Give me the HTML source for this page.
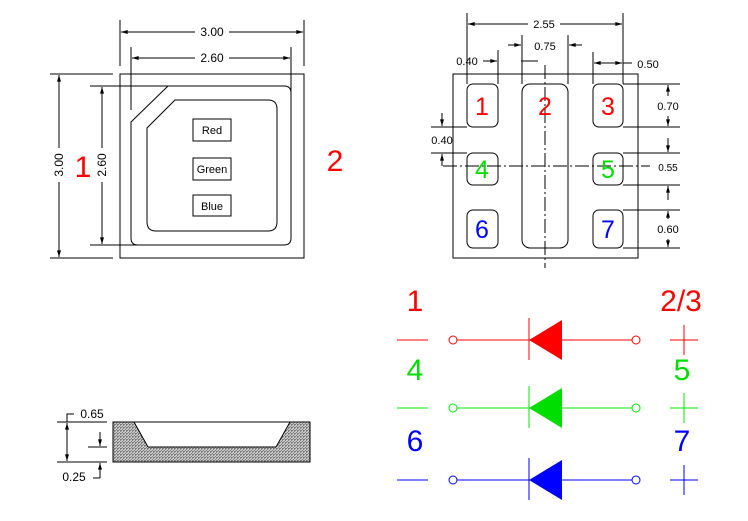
<!DOCTYPE html>
<html><head><style>
html,body{margin:0;padding:0;background:#fff;}
svg{display:block;}
text{font-family:"Liberation Sans",sans-serif;}
</style></head><body>
<svg width="748" height="521" viewBox="0 0 748 521" xmlns="http://www.w3.org/2000/svg">
<defs>
<marker id="a" viewBox="0 0 10 6" refX="10" refY="3" markerWidth="8" markerHeight="4" orient="auto-start-reverse" markerUnits="userSpaceOnUse"><path d="M0,0 L10,3 L0,6 z" fill="#000"/></marker>
<pattern id="h" width="3" height="3" patternUnits="userSpaceOnUse"><rect width="3" height="3" fill="#ccc"/><path d="M0,3 L3,0" stroke="#555" stroke-width="0.6"/><rect x="0" y="1" width="1" height="1" fill="#777"/></pattern>
</defs>
<g stroke="#000" stroke-width="1" fill="none">
<rect x="120" y="74" width="184" height="184"/>
<path d="M168,86 L284,86 Q291,86 291,93 L291,238 Q291,245 284,245 L138,245 Q131,245 131,238 L131,122 Z"/>
<path d="M175,100 L268,100 Q277,100 277,109 L277,222 Q277,231 268,231 L156,231 Q147,231 147,222 L147,128 Z"/>
<rect x="193" y="119" width="38" height="22"/>
<rect x="193" y="158" width="38" height="22"/>
<rect x="193" y="195" width="38" height="21"/>
<line x1="120" y1="20" x2="120" y2="66"/><line x1="304" y1="20" x2="304" y2="66"/>
<line x1="121" y1="32" x2="195" y2="32" marker-start="url(#a)"/><line x1="229" y1="32" x2="303" y2="32" marker-end="url(#a)"/>
<line x1="131" y1="47" x2="131" y2="110"/><line x1="291" y1="47" x2="291" y2="95"/>
<line x1="132" y1="58" x2="195" y2="58" marker-start="url(#a)"/><line x1="229" y1="58" x2="290" y2="58" marker-end="url(#a)"/>
<line x1="50" y1="74" x2="113" y2="74"/><line x1="50" y1="258" x2="113" y2="258"/>
<line x1="59" y1="75" x2="59" y2="148" marker-start="url(#a)"/><line x1="59" y1="182" x2="59" y2="257" marker-end="url(#a)"/>
<line x1="90" y1="86" x2="168" y2="86"/><line x1="90" y1="245" x2="144" y2="245"/>
<line x1="102" y1="87" x2="102" y2="148" marker-start="url(#a)"/><line x1="102" y1="182" x2="102" y2="244" marker-end="url(#a)"/>

<rect x="453" y="74" width="185" height="184"/>
<rect x="467" y="84" width="31" height="43" rx="6"/>
<rect x="467" y="153" width="31" height="32" rx="6"/>
<rect x="467" y="210" width="31" height="38" rx="6"/>
<rect x="522" y="84" width="46" height="164" rx="8"/>
<rect x="593" y="84" width="30" height="43" rx="6"/>
<rect x="593" y="153" width="30" height="32" rx="6"/>
<rect x="593" y="210" width="30" height="38" rx="6"/>
<line x1="545" y1="65" x2="545" y2="268" stroke-dasharray="14,3,2,3"/>
<line x1="443" y1="166" x2="650" y2="166" stroke-dasharray="14,3,2,3"/>
<line x1="467" y1="13" x2="467" y2="84"/><line x1="623" y1="13" x2="623" y2="84"/>
<line x1="468" y1="24" x2="528" y2="24" marker-start="url(#a)"/><line x1="560" y1="24" x2="622" y2="24" marker-end="url(#a)"/>
<line x1="522" y1="35" x2="522" y2="84"/><line x1="568" y1="35" x2="568" y2="84"/>
<line x1="508" y1="45" x2="521" y2="45" marker-end="url(#a)"/><line x1="582" y1="45" x2="569" y2="45" marker-end="url(#a)"/>
<line x1="498" y1="50" x2="498" y2="84"/>
<line x1="483" y1="61" x2="497" y2="61" marker-end="url(#a)"/>
<line x1="521" y1="61" x2="538" y2="61"/>
<line x1="593" y1="52" x2="593" y2="84"/>
<line x1="594" y1="63" x2="622" y2="63" marker-start="url(#a)" marker-end="url(#a)"/>
<line x1="623" y1="63" x2="632" y2="63"/>
<line x1="623" y1="84" x2="680" y2="84"/><line x1="623" y1="127" x2="680" y2="127"/>
<line x1="668" y1="85" x2="668" y2="96" marker-start="url(#a)"/><line x1="668" y1="116" x2="668" y2="126" marker-end="url(#a)"/>
<line x1="623" y1="153" x2="680" y2="153"/><line x1="623" y1="185" x2="680" y2="185"/>
<line x1="668" y1="138" x2="668" y2="152" marker-end="url(#a)"/><line x1="668" y1="200" x2="668" y2="186" marker-end="url(#a)"/>
<line x1="623" y1="210" x2="680" y2="210"/><line x1="623" y1="248" x2="680" y2="248"/>
<line x1="668" y1="211" x2="668" y2="219" marker-start="url(#a)"/><line x1="668" y1="239" x2="668" y2="247" marker-end="url(#a)"/>
<line x1="431" y1="127" x2="467" y2="127"/><line x1="431" y1="153" x2="467" y2="153"/>
<line x1="442" y1="113" x2="442" y2="126" marker-end="url(#a)"/><line x1="442" y1="166" x2="442" y2="154" marker-end="url(#a)"/>

<path d="M113,422 L134,422 L148,447 L276,447 L290,422 L310,422 L310,462 L113,462 Z" fill="url(#h)" stroke="none"/>
<rect x="113" y="422" width="197" height="40"/>
<line x1="148" y1="447" x2="276" y2="447"/>
<line x1="134" y1="422" x2="148" y2="447"/><line x1="290" y1="422" x2="276" y2="447"/>
<line x1="57" y1="422" x2="107" y2="422"/><line x1="57" y1="462" x2="107" y2="462"/>
<line x1="67" y1="423" x2="67" y2="461" marker-start="url(#a)" marker-end="url(#a)"/>
<path d="M67,422 L67,414 L74,414"/>
<line x1="88" y1="447" x2="107" y2="447"/>
<line x1="100" y1="432" x2="100" y2="446" marker-end="url(#a)"/>
<line x1="100" y1="478" x2="100" y2="463" marker-end="url(#a)"/>
<line x1="93" y1="478" x2="100" y2="478"/>
</g>
<g font-size="12" fill="#000" text-anchor="middle">
<text x="212" y="36">3.00</text>
<text x="212" y="62">2.60</text>
<text x="212" y="134" font-size="11">Red</text>
<text x="212" y="173" font-size="11">Green</text>
<text x="212" y="210" font-size="11">Blue</text>
<text transform="translate(63,165) rotate(-90)">3.00</text>
<text transform="translate(106,165) rotate(-90)">2.60</text>
<text x="544" y="28" font-size="11">2.55</text>
<text x="545" y="50" font-size="11">0.75</text>
<text x="467" y="65" font-size="11">0.40</text>
<text x="648" y="68" font-size="11">0.50</text>
<text x="668" y="110" font-size="11">0.70</text>
<text x="668" y="171" font-size="10">0.55</text>
<text x="668" y="233" font-size="11">0.60</text>
<text x="442" y="144" font-size="11">0.40</text>
<text x="92" y="418">0.65</text>
<text x="74" y="481">0.25</text>
</g>
<g font-size="30" text-anchor="middle">
<text x="83" y="177" fill="#f00">1</text>
<text x="335" y="171" fill="#f00">2</text>
</g>
<g font-size="25" text-anchor="middle">
<text x="482" y="115" fill="#f00">1</text>
<text x="545" y="115" fill="#f00">2</text>
<text x="608" y="115" fill="#f00">3</text>
<text x="482" y="178" fill="#0d0">4</text>
<text x="608" y="178" fill="#0d0">5</text>
<text x="482" y="238" fill="#00f">6</text>
<text x="608" y="238" fill="#00f">7</text>
</g>
<g fill="none">
<g stroke="#f00"><line x1="397" y1="340" x2="428" y2="340"/><circle cx="453" cy="340" r="4"/><line x1="457" y1="340" x2="632" y2="340"/><circle cx="636" cy="340" r="4"/><line x1="529" y1="318" x2="529" y2="360"/><line x1="670" y1="340" x2="698" y2="340"/><line x1="684" y1="325" x2="684" y2="355"/></g>
<path d="M529,340 L562,320 L562,360 Z" fill="#f00"/>
<g stroke="#0e0"><line x1="397" y1="408" x2="428" y2="408"/><circle cx="453" cy="408" r="4"/><line x1="457" y1="408" x2="632" y2="408"/><circle cx="636" cy="408" r="4"/><line x1="529" y1="386" x2="529" y2="428"/><line x1="670" y1="408" x2="698" y2="408"/><line x1="684" y1="393" x2="684" y2="423"/></g>
<path d="M529,408 L562,388 L562,428 Z" fill="#0d0"/>
<g stroke="#00f"><line x1="397" y1="480" x2="428" y2="480"/><circle cx="453" cy="480" r="4"/><line x1="457" y1="480" x2="632" y2="480"/><circle cx="636" cy="480" r="4"/><line x1="529" y1="458" x2="529" y2="500"/><line x1="670" y1="480" x2="698" y2="480"/><line x1="684" y1="465" x2="684" y2="495"/></g>
<path d="M529,480 L562,460 L562,500 Z" fill="#00f"/>
</g>
<g font-size="30" text-anchor="middle">
<text x="415" y="311" fill="#f00">1</text>
<text x="681" y="311" fill="#f00">2/3</text>
<text x="415" y="380" fill="#0d0">4</text>
<text x="682" y="380" fill="#0d0">5</text>
<text x="415" y="451" fill="#00f">6</text>
<text x="682" y="451" fill="#00f">7</text>
</g>
</svg>
</body></html>
